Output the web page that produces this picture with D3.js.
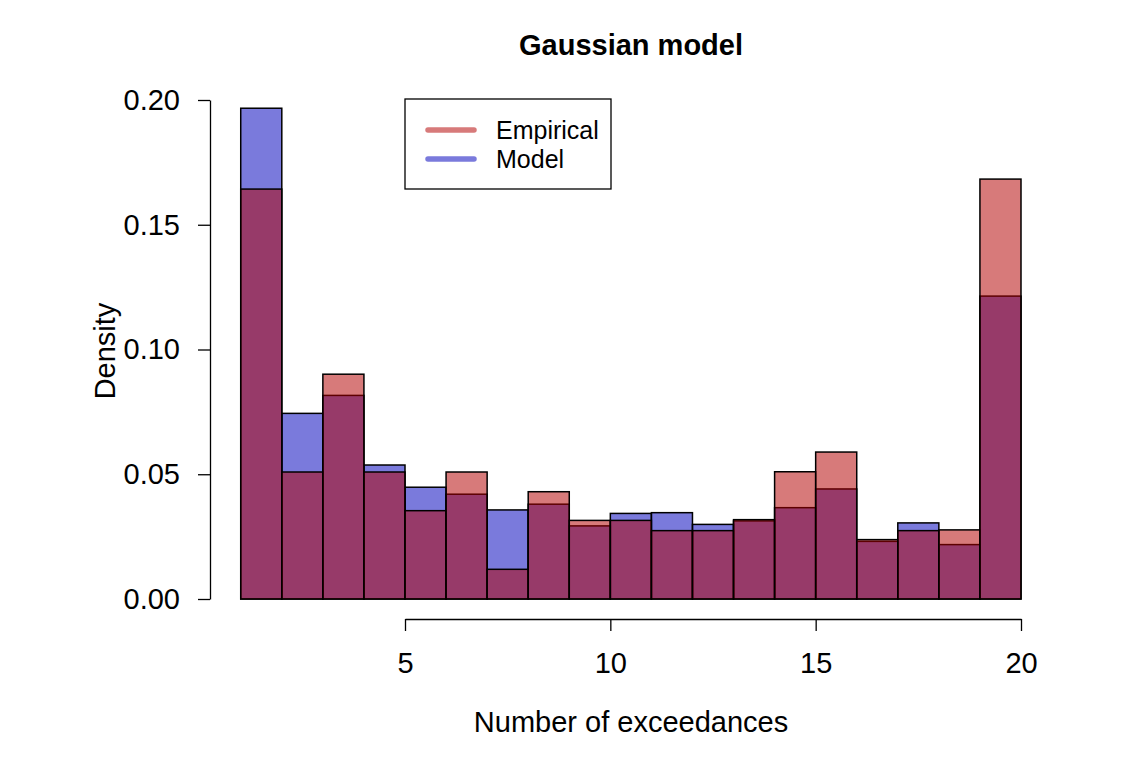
<html>
<head>
<title>Gaussian model</title>
<script src="https://d3js.org/d3.v7.min.js"></script>
<style>
  body { margin: 0; background: #fff; }
  text { font-family: "Liberation Sans", Arial, sans-serif; fill: #000; }
  .tick text { font-size: 29px; }
</style>
</head>
<body>
<svg id="chart"></svg>
<script>
// bins are [k, k+1], k = 1..19
var binStarts = d3.range(1, 20);
var empirical = [0.1643, 0.0509, 0.0901, 0.0509, 0.0354, 0.0509, 0.0119, 0.0430, 0.0315, 0.0315,
                 0.0274, 0.0274, 0.0318, 0.0510, 0.0589, 0.0238, 0.0274, 0.0277, 0.1683];
var model = [0.1967, 0.0744, 0.0816, 0.0537, 0.0448, 0.0420, 0.0357, 0.0380, 0.0293, 0.0343,
             0.0346, 0.0299, 0.0313, 0.0366, 0.0441, 0.0231, 0.0305, 0.0218, 0.1214];
var yTicks = [0, 0.05, 0.10, 0.15, 0.20];
var xTicks = [5, 10, 15, 20];
var legendLabels = ["Empirical", "Model"];

var W = 1142, H = 784;
var redFill = "rgba(178,0,0,0.52)", blueFill = "rgba(0,0,188,0.52)";

var svg = d3.select("#chart").attr("width", W).attr("height", H);

var x = d3.scaleLinear().domain([5, 20]).range([405, 1021]);
var y = d3.scaleLinear().domain([0, 0.2]).range([599, 100]);

function drawBars(vals, fill) {
  svg.append("g").selectAll("rect")
    .data(vals)
    .enter()
    .append("rect")
    .attr("x", function (d, i) { return x(binStarts[i]); })
    .attr("width", function (d, i) { return x(binStarts[i] + 1) - x(binStarts[i]); })
    .attr("y", function (d) { return y(d); })
    .attr("height", function (d) { return y(0) - y(d); })
    .attr("fill", fill)
    .attr("stroke", "#000")
    .attr("stroke-width", 1.5);
}
// model first, empirical drawn on top
drawBars(model, blueFill);
drawBars(empirical, redFill);

// y axis
var yAxis = svg.append("g")
  .attr("transform", "translate(210,0)")
  .call(d3.axisLeft(y).tickValues(yTicks).tickFormat(d3.format(".2f")).tickSize(12).tickSizeOuter(0).tickPadding(18));
yAxis.selectAll("path, line").attr("stroke", "#000").attr("stroke-width", 1.3);

// x axis
var xAxis = svg.append("g")
  .attr("transform", "translate(0,619)")
  .call(d3.axisBottom(x).tickValues(xTicks).tickSize(12).tickSizeOuter(0).tickPadding(21));
xAxis.selectAll("path, line").attr("stroke", "#000").attr("stroke-width", 1.3);

// title and axis labels
svg.append("text").attr("x", 631).attr("y", 55).attr("text-anchor", "middle")
  .style("font-size", "29px").style("font-weight", "bold").text("Gaussian model");
svg.append("text").attr("x", 631).attr("y", 732).attr("text-anchor", "middle")
  .style("font-size", "29px").text("Number of exceedances");
svg.append("text").attr("transform", "translate(115,351) rotate(-90)").attr("text-anchor", "middle")
  .style("font-size", "29px").text("Density");

// legend
var legend = svg.append("g");
legend.append("rect").attr("x", 405).attr("y", 99).attr("width", 206).attr("height", 90)
  .attr("fill", "#fff").attr("stroke", "#000").attr("stroke-width", 1.3);
var legendColors = [redFill, blueFill];
legendLabels.forEach(function (lab, i) {
  var ly = 130 + i * 29;
  legend.append("line").attr("x1", 428).attr("x2", 474).attr("y1", ly).attr("y2", ly)
    .attr("stroke", legendColors[i]).attr("stroke-width", 5.5).attr("stroke-linecap", "round");
  legend.append("text").attr("x", 496).attr("y", ly + 9).style("font-size", "25px").text(lab);
});
</script>
</body>
</html>
